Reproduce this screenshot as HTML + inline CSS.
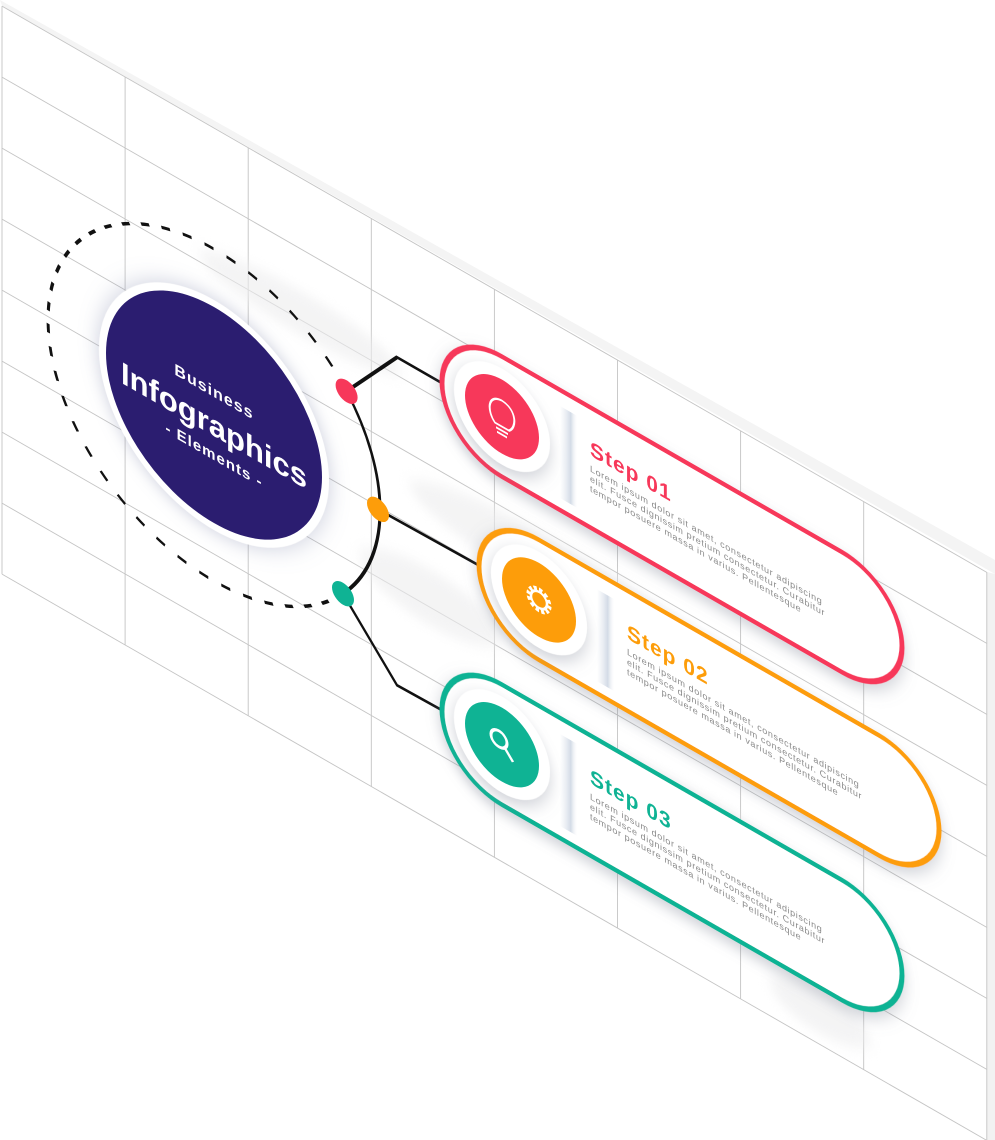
<!DOCTYPE html>
<html><head><meta charset="utf-8"><style>
html,body{margin:0;padding:0;background:#fff;}
svg{display:block;}
text{font-family:"Liberation Sans",sans-serif;}
</style></head><body>
<svg width="995" height="1140" viewBox="0 0 995 1140">
<defs>
<filter id="sh" x="-30%" y="-30%" width="160%" height="160%"><feDropShadow dx="0" dy="6" stdDeviation="7" flood-color="#7a8090" flood-opacity="0.35"/></filter>
<filter id="glow" x="-30%" y="-30%" width="160%" height="160%"><feDropShadow dx="0" dy="0" stdDeviation="10" flood-color="#8a90b0" flood-opacity="0.45"/></filter>
<filter id="blur"><feGaussianBlur stdDeviation="6"/></filter>
<linearGradient id="div" x1="0" x2="1" y1="0" y2="0"><stop offset="0" stop-color="#dfe5ee" stop-opacity="0"/><stop offset="0.6" stop-color="#d3dbe6"/><stop offset="1" stop-color="#fff" stop-opacity="0"/></linearGradient>
</defs>
<!-- panel -->
<polygon points="2,6 987,572 995,577 995,1140 987,1140 2,573" fill="#fff"/>
<polygon points="0,0 995,560 995,574 2,6" fill="#f4f4f4"/>
<polygon points="987,572 995,574 995,1140 987,1140" fill="#f2f2f2"/>
<g stroke="#c4c4c4" stroke-width="0.9" fill="none" id="grid"></g>
<!-- content in local skewed coords -->
<g transform="matrix(1,0.575,0,1,0,0)">
 <g fill="#ededee" opacity="0.6" filter="url(#blur)">
  <ellipse cx="300" cy="140" rx="100" ry="22"/>
  <ellipse cx="560" cy="250" rx="150" ry="30"/>
  <ellipse cx="430" cy="350" rx="70" ry="28"/>
  <ellipse cx="700" cy="420" rx="120" ry="28"/>
  <ellipse cx="820" cy="540" rx="50" ry="22"/>
 </g>
 <path d="M 346.6 192 A 166 166 0 1 0 343 396.5" fill="none" stroke="#111" stroke-width="3" stroke-dasharray="9 13"/>
 <path d="M 346.6 192 A 166 166 0 0 1 343 396.5" fill="none" stroke="#111" stroke-width="3"/>
 <path d="M 346.6 192 L 397 129 L 445 129" fill="none" stroke="#111" stroke-width="3"/>
 <path d="M 378 292 L 482 290" fill="none" stroke="#111" stroke-width="3"/>
 <path d="M 343 396.5 L 397 457 L 445 456" fill="none" stroke="#111" stroke-width="3"/>
 <circle cx="346.6" cy="192" r="11" fill="#f7385a"/>
 <circle cx="378" cy="292" r="11" fill="#fd9d0a"/>
 <circle cx="343" cy="396.5" r="11" fill="#0fb394"/>
 <circle cx="214" cy="292" r="115" fill="#fff" filter="url(#glow)"/>
 <circle cx="214" cy="292" r="108" fill="#2b1d70"/>
 <text x="214" y="274" text-anchor="middle" fill="#fff" font-weight="bold" font-size="16" letter-spacing="1">Business</text>
 <text x="214" y="313" text-anchor="middle" fill="#fff" font-weight="bold" font-size="31">Infographics</text>
 <text x="214" y="337" text-anchor="middle" fill="#fff" font-weight="bold" font-size="15" letter-spacing="1">- Elements -</text>

 <g>
  <rect x="442" y="68" width="460" height="120" rx="60" fill="#fff" stroke="#f7385a" stroke-width="5" filter="url(#sh)"/>
  <rect x="560" y="84" width="18" height="92" fill="url(#div)"/>
  <circle cx="502" cy="128" r="48" fill="#fff" filter="url(#sh)"/>
  <circle cx="502" cy="128" r="37" fill="#f7385a"/>
  <g fill="none" stroke="#fff" stroke-width="2"><path d="M495 138 C487 131 487 113 502 112 C517 113 517 131 509 138 Z"/><path d="M496 142 H508 M497 146 H507"/></g>
  <text x="590" y="116" fill="#f7385a" font-weight="bold" font-size="21" letter-spacing="1">Step 01</text>
  <g fill="#8a8a8a" font-size="9" letter-spacing="0.6"><text x="590" y="132">Lorem ipsum dolor sit amet, consectetur adipiscing</text><text x="590" y="142">elit. Fusce dignissim pretium consectetur. Curabitur</text><text x="590" y="152">tempor posuere massa in varius. Pellentesque</text></g>
 </g>
 <g>
  <rect x="479" y="230" width="460" height="120" rx="60" fill="#fff" stroke="#fd9d0a" stroke-width="5" filter="url(#sh)"/>
  <rect x="597" y="246" width="18" height="92" fill="url(#div)"/>
  <circle cx="539" cy="290" r="48" fill="#fff" filter="url(#sh)"/>
  <circle cx="539" cy="290" r="37" fill="#fd9d0a"/>
  <g><circle cx="539" cy="290" r="10" fill="none" stroke="#fff" stroke-width="5" stroke-dasharray="3.2 2"/><circle cx="539" cy="290" r="8" fill="none" stroke="#fff" stroke-width="2.5"/></g>
  <text x="627" y="278" fill="#fd9d0a" font-weight="bold" font-size="21" letter-spacing="1">Step 02</text>
  <g fill="#8a8a8a" font-size="9" letter-spacing="0.6"><text x="627" y="294">Lorem ipsum dolor sit amet, consectetur adipiscing</text><text x="627" y="304">elit. Fusce dignissim pretium consectetur. Curabitur</text><text x="627" y="314">tempor posuere massa in varius. Pellentesque</text></g>
 </g>
 <g>
  <rect x="442" y="396" width="460" height="120" rx="60" fill="#fff" stroke="#0fb394" stroke-width="5" filter="url(#sh)"/>
  <rect x="560" y="412" width="18" height="92" fill="url(#div)"/>
  <circle cx="502" cy="456" r="48" fill="#fff" filter="url(#sh)"/>
  <circle cx="502" cy="456" r="37" fill="#0fb394"/>
  <g fill="none" stroke="#fff" stroke-width="3"><circle cx="499" cy="452" r="8"/><path d="M505 458 L513 467"/></g>
  <text x="590" y="444" fill="#0fb394" font-weight="bold" font-size="21" letter-spacing="1">Step 03</text>
  <g fill="#8a8a8a" font-size="9" letter-spacing="0.6"><text x="590" y="460">Lorem ipsum dolor sit amet, consectetur adipiscing</text><text x="590" y="470">elit. Fusce dignissim pretium consectetur. Curabitur</text><text x="590" y="480">tempor posuere massa in varius. Pellentesque</text></g>
 </g>
</g>
<script>
var g=document.getElementById('grid');
var NS='http://www.w3.org/2000/svg';
var rows=[0,1,2,3,4,5,6,7,8];
var cols=[0,1,2,3,4,5,6,7,8];
rows.forEach(function(i){
 var l=document.createElementNS(NS,'line');
 
 
 var y0=5+71*i;
 l.setAttribute('x1',2);l.setAttribute('y1',y0+0.575*2);
 l.setAttribute('x2',987);l.setAttribute('y2',y0+0.575*987);
 g.appendChild(l);
});
cols.forEach(function(j){
 var x=2+123.1*j;
 var l=document.createElementNS(NS,'line');
 
 
 l.setAttribute('x1',x);l.setAttribute('y1',5+0.575*x);
 l.setAttribute('x2',x);l.setAttribute('y2',573+0.575*x);
 g.appendChild(l);
});
</script>
</svg>
</body></html>
